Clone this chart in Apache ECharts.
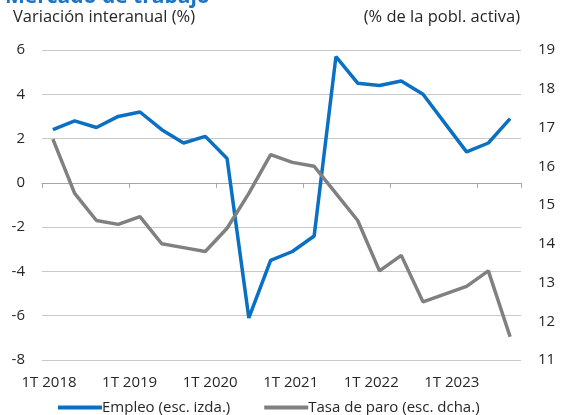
<!DOCTYPE html>
<html>
  <head>
    <meta charset="utf-8" />
    <title>Mercado de trabajo</title>
    <script src="https://cdn.jsdelivr.net/npm/echarts@6/dist/echarts.min.js"></script>
    <style>
      html, body { margin: 0; padding: 0; background: #fff; }
    </style>
  </head>
  <body>
    <div id="chart" style="width: 565px; height: 415px;"></div>
  </body>
  <script>
    var quarters = [
      '1T 2018', '2T 2018', '3T 2018', '4T 2018',
      '1T 2019', '2T 2019', '3T 2019', '4T 2019',
      '1T 2020', '2T 2020', '3T 2020', '4T 2020',
      '1T 2021', '2T 2021', '3T 2021', '4T 2021',
      '1T 2022', '2T 2022', '3T 2022', '4T 2022',
      '1T 2023', '2T 2023'
    ]
    // empleo, variación interanual (%), eje izquierdo
    var empleo = [
      2.4, 2.8, 2.5, 3.0, 3.2, 2.4, 1.8, 2.1,
      1.1, -6.1, -3.5, -3.1, -2.4, 5.7, 4.5, 4.4,
      4.6, 4.0, 2.7, 1.4, 1.8, 2.9
    ]
    // tasa de paro (% pobl. activa), eje derecho
    var paro = [
      16.7, 15.3, 14.6, 14.5, 14.7, 14.0, 13.9, 13.8,
      14.4, 15.3, 16.3, 16.1, 16.0, 15.3, 14.6, 13.3,
      13.7, 12.5, 12.7, 12.9, 13.3, 11.6
    ]
    var seriesNames = ['Empleo (esc. izda.)', 'Tasa de paro (esc. dcha.)']

    var font = 'Open Sans'
    var txt = '#262626'

    var chart = echarts.init(document.getElementById('chart'))
    var option = {
      animation: false,
      textStyle: { fontFamily: font },
      title: {
        text: 'Mercado de trabajo',
        left: 0,
        top: -18,
        textStyle: { fontSize: 21, fontWeight: 'bold', color: '#1b75c6', fontFamily: font }
      },
      graphic: [
        {
          type: 'text', left: 13, top: 9,
          style: { text: 'Variación interanual (%)', font: '16.5px "Open Sans"', fill: txt }
        },
        {
          type: 'text', right: 45, top: 9,
          style: { text: '(% de la pobl. activa)', font: '16.5px "Open Sans"', fill: txt }
        }
      ],
      legend: {
        data: seriesNames,
        left: 53,
        top: 395,
        itemWidth: 44,
        itemHeight: 4,
        itemGap: 34,
        icon: 'rect',
        textStyle: { fontSize: 15, color: txt, padding: [0, 0, 0, -5] }
      },
      grid: [
        { left: 42, right: 44, top: 50, height: 310 },
        { left: 39, width: 443, top: 50, height: 310 }
      ],
      xAxis: [
        {
          type: 'category',
          data: quarters,
          gridIndex: 0,
          boundaryGap: true,
          axisLine: { onZero: true, onZeroAxisIndex: 0, lineStyle: { color: '#a6a6a6', width: 1 } },
          axisTick: { show: true, interval: 3, length: 5, inside: false, lineStyle: { color: '#a6a6a6' } },
          axisLabel: { show: false }
        },
        {
          type: 'category',
          data: quarters,
          gridIndex: 1,
          position: 'bottom',
          axisLine: { show: false, onZero: false },
          axisTick: { show: false },
          axisLabel: { interval: 3, fontSize: 15, color: txt, margin: 15 }
        }
      ],
      yAxis: [
        {
          type: 'value',
          gridIndex: 0,
          min: -8,
          max: 6,
          interval: 2,
          axisLine: { show: false },
          axisTick: { show: false },
          axisLabel: { fontSize: 15, color: txt, margin: 17 },
          splitLine: { lineStyle: { color: '#c8c8c8', width: 1 } }
        },
        {
          type: 'value',
          gridIndex: 0,
          position: 'right',
          min: 11,
          max: 19,
          interval: 1,
          axisLine: { show: false },
          axisTick: { show: false },
          axisLabel: { fontSize: 15, color: txt, margin: 17 },
          splitLine: { show: false }
        },
        { type: 'value', gridIndex: 1, show: false }
      ],
      series: [
        {
          name: seriesNames[0],
          type: 'line',
          xAxisIndex: 0,
          yAxisIndex: 0,
          data: empleo,
          symbol: 'none',
          lineStyle: { color: '#0a70c4', width: 3.5 },
          itemStyle: { color: '#0a70c4' }
        },
        {
          name: seriesNames[1],
          type: 'line',
          xAxisIndex: 0,
          yAxisIndex: 1,
          data: paro,
          symbol: 'none',
          lineStyle: { color: '#808080', width: 3.5 },
          itemStyle: { color: '#808080' }
        }
      ]
    }
    option && chart.setOption(option)
  </script>
</html>
